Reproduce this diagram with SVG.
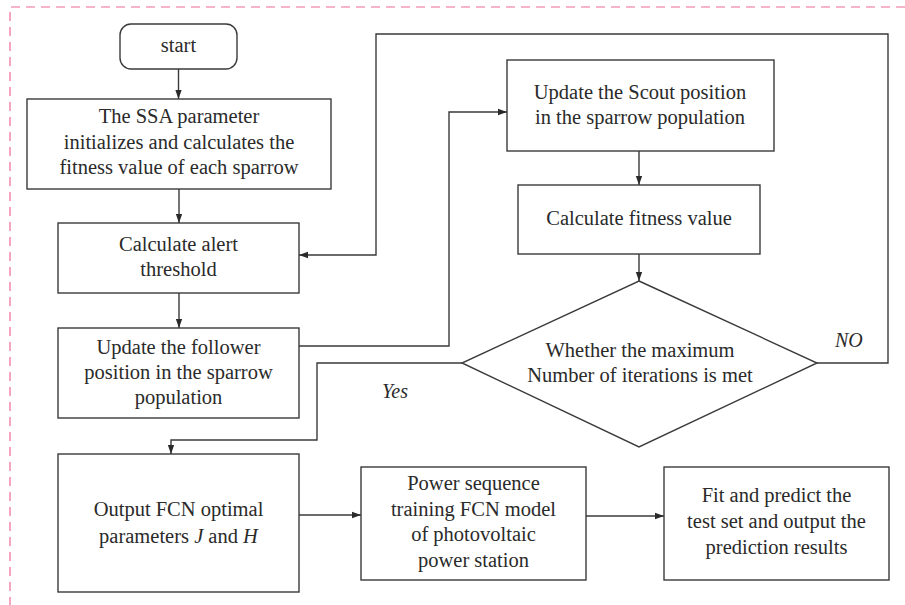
<svg xmlns="http://www.w3.org/2000/svg" width="905" height="605" viewBox="0 0 905 605">
<style>
.box{fill:#fff;stroke:#3a3a3a;stroke-width:1.4}
.ln{fill:none;stroke:#3a3a3a;stroke-width:1.4}
.t{font-family:"Liberation Serif","Times New Roman",serif;font-size:20.5px;fill:#2a2a2a;text-anchor:middle}
.it{font-family:"Liberation Serif","Times New Roman",serif;font-size:20px;font-style:italic;fill:#2a2a2a}
.frame{fill:none;stroke:#ee6a96;stroke-width:1.2;stroke-dasharray:9 6}
</style>
<defs>
<marker id="ah" viewBox="0 0 10 10" refX="10" refY="5" markerWidth="9" markerHeight="9" markerUnits="userSpaceOnUse" orient="auto">
<path d="M0,1.5 L10,5 L0,8.5 Z" fill="#2a2a2a"/>
</marker>
</defs>
<rect width="905" height="605" fill="#fff"/>
<path class="frame" d="M905,7 H10 V605"/>

<g id="connectors">
<path class="ln" d="M178.5,69 V99" marker-end="url(#ah)"/>
<path class="ln" d="M179,189 V223" marker-end="url(#ah)"/>
<path class="ln" d="M179,293 V328" marker-end="url(#ah)"/>
<path class="ln" d="M299,346 H449 V112 H507" marker-end="url(#ah)"/>
<path class="ln" d="M639,151 V185" marker-end="url(#ah)"/>
<path class="ln" d="M639,254 V281" marker-end="url(#ah)"/>
<path class="ln" d="M817,363 H888 V34 H376 V255 H299" marker-end="url(#ah)"/>
<path class="ln" d="M462,363 H317 V440 H171 V454" marker-end="url(#ah)"/>
<path class="ln" d="M299,515 H361" marker-end="url(#ah)"/>
<path class="ln" d="M586,516 H664" marker-end="url(#ah)"/>
<text class="it" x="835" y="347">NO</text>
<text class="it" x="382" y="398">Yes</text>
</g>

<g id="start">
<rect class="box" x="120" y="24" width="117" height="45" rx="11"/>
<text class="t" x="178.5" y="52">start</text>
</g>

<g id="ssa-init">
<rect class="box" x="27" y="99" width="304" height="90"/>
<text class="t" x="179" y="123">The SSA parameter</text>
<text class="t" x="179" y="148.5">initializes and calculates the</text>
<text class="t" x="179" y="174">fitness value of each sparrow</text>
</g>

<g id="alert">
<rect class="box" x="58" y="223" width="241" height="70"/>
<text class="t" x="178.5" y="251">Calculate alert</text>
<text class="t" x="178.5" y="276">threshold</text>
</g>

<g id="follower">
<rect class="box" x="58" y="328" width="241" height="90"/>
<text class="t" x="178.5" y="353.5">Update the follower</text>
<text class="t" x="178.5" y="379">position in the sparrow</text>
<text class="t" x="178.5" y="404">population</text>
</g>

<g id="scout">
<rect class="box" x="507" y="60" width="267" height="91"/>
<text class="t" x="640" y="98.5">Update the Scout position</text>
<text class="t" x="640" y="123.5">in the sparrow population</text>
</g>

<g id="fitness">
<rect class="box" x="518" y="185" width="242" height="69"/>
<text class="t" x="639" y="225">Calculate fitness value</text>
</g>

<g id="decision">
<polygon class="box" points="639,281 817,363 639,447 462,363"/>
<text class="t" x="640" y="357">Whether the maximum</text>
<text class="t" x="640" y="382">Number of iterations is met</text>
</g>

<g id="output">
<rect class="box" x="58" y="454" width="241" height="138"/>
<text class="t" x="178.5" y="516">Output FCN optimal</text>
<text class="t" x="178.5" y="542.5">parameters <tspan font-style="italic">J</tspan> and <tspan font-style="italic">H</tspan></text>
</g>

<g id="power">
<rect class="box" x="361" y="467" width="225" height="113"/>
<text class="t" x="473.5" y="490">Power sequence</text>
<text class="t" x="473.5" y="515.5">training FCN model</text>
<text class="t" x="473.5" y="541">of photovoltaic</text>
<text class="t" x="473.5" y="566.5">power station</text>
</g>

<g id="fit">
<rect class="box" x="664" y="467" width="225" height="113"/>
<text class="t" x="776.5" y="502">Fit and predict the</text>
<text class="t" x="776.5" y="528">test set and output the</text>
<text class="t" x="776.5" y="553.5">prediction results</text>
</g>
</svg>
